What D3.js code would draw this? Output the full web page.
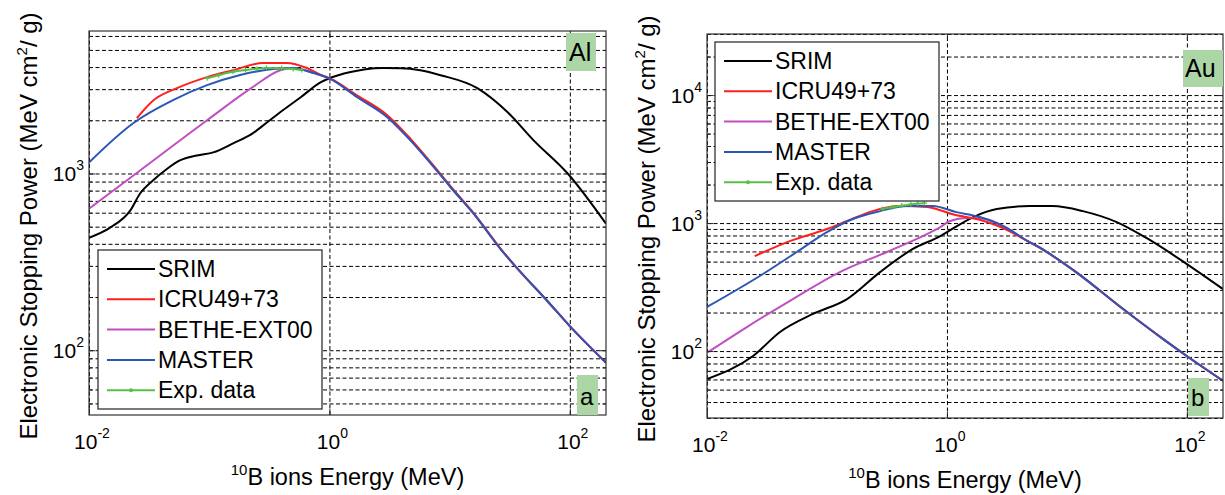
<!DOCTYPE html>
<html><head><meta charset="utf-8">
<script src="https://cdn.jsdelivr.net/npm/d3@7"></script>
<style>
body{margin:0;background:#fff}
svg{display:block}
text{font-family:Arial,"Liberation Sans",sans-serif;fill:#000}
</style>
</head><body>
<svg id="chart" width="1225" height="495"></svg>
<script>
// ---------------- DATA ----------------
const seriesNames = ["SRIM", "ICRU49+73", "BETHE-EXT00", "MASTER", "Exp. data"];
const xTickValues = [0.01, 1, 100];
const xTickExponents = ["-2", "0", "2"];
const yTickValuesAl = [100, 1000];
const yTickExponentsAl = ["2", "3"];
const yTickValuesAu = [100, 1000, 10000];
const yTickExponentsAu = ["2", "3", "4"];
const panelTags = ["Al", "Au"];
const panelLetters = ["a", "b"];

// Panel a: Al target
const alSrimE   = [0.01, 0.015, 0.022, 0.0266, 0.034, 0.045, 0.057, 0.079, 0.108, 0.158, 0.23, 0.304, 0.41, 0.577, 0.85, 1.0, 1.5, 2.0, 2.8, 3.9, 5.7, 8.4, 17, 30.4, 50, 96, 200];
const alSrimS   = [433, 494, 616, 770, 912, 1067, 1185, 1265, 1316, 1480, 1688, 1950, 2280, 2700, 3290, 3460, 3750, 3890, 3950, 3940, 3840, 3600, 3040, 2220, 1540, 1000, 520];
const alIcruE   = [0.025, 0.034, 0.054, 0.096, 0.158, 0.28, 0.44, 0.65, 0.85, 1.0, 1.71, 3.0, 4.73, 7.41, 10.2, 15.9, 26.6, 35, 65, 100, 200];
const alIcruS   = [2054, 2580, 3040, 3510, 3840, 4220, 4220, 3950, 3610, 3460, 2760, 2150, 1570, 1100, 845, 595, 375, 300, 190, 137, 85];
const alBetheE  = [0.01, 0.0266, 0.096, 0.23, 0.39, 0.5, 0.74, 1.0, 1.71, 3.02, 4.73, 7.41, 10.2, 15.9, 26.6, 35, 65, 100, 200];
const alBetheS  = [632, 1040, 2000, 3080, 3840, 3950, 3700, 3450, 2700, 2090, 1540, 1086, 836, 590, 373, 300, 190, 137, 85];
const alMasterE = [0.01, 0.0233, 0.05, 0.096, 0.181, 0.34, 0.5, 0.74, 1.0, 1.71, 3.02, 4.73, 7.41, 10.2, 15.9, 26.6, 35, 65, 100, 200];
const alMasterS = [1155, 1925, 2600, 3160, 3610, 3900, 3950, 3700, 3450, 2700, 2090, 1540, 1086, 836, 590, 373, 300, 190, 137, 85];
const alExpE    = [0.096, 0.12, 0.158, 0.2, 0.25, 0.3, 0.4, 0.5, 0.59];
const alExpS    = [3460, 3600, 3760, 3850, 3920, 3950, 3940, 3900, 3850];

// Panel b: Au target
const auSrimE   = [0.01, 0.0242, 0.0406, 0.0764, 0.147, 0.277, 0.52, 0.88, 1.1, 1.66, 2.6, 4.9, 7.6, 13.6, 26, 46, 100, 200];
const auSrimS   = [60.4, 91.5, 141, 195, 255, 414, 628, 792, 898, 1114, 1286, 1358, 1358, 1240, 1018, 765, 478, 305];
const auIcruE   = [0.025, 0.049, 0.1, 0.147, 0.24, 0.405, 0.68, 0.88, 1.1, 1.88, 3.57, 4.32, 5.96, 12.0, 29.4, 63.5, 99, 200];
const auIcruS   = [552, 723, 898, 1037, 1240, 1358, 1333, 1260, 1176, 1060, 835, 755, 640, 412, 213, 124, 92, 58.6];
const auBetheE  = [0.01, 0.0215, 0.052, 0.128, 0.316, 0.68, 0.88, 1.06, 1.46, 1.88, 3.57, 4.32, 5.96, 12.0, 29.4, 63.5, 99, 200];
const auBetheS  = [97, 154, 255, 414, 594, 820, 930, 1037, 1094, 1090, 855, 758, 642, 412, 213, 124, 92, 58.6];
const auMasterE = [0.01, 0.0293, 0.056, 0.1, 0.164, 0.277, 0.46, 0.76, 1.2, 1.88, 3.57, 4.32, 5.96, 12.0, 29.4, 63.5, 99, 200];
const auMasterS = [221, 400, 594, 850, 1075, 1240, 1358, 1358, 1218, 1114, 855, 758, 642, 412, 213, 124, 92, 58.6];
const auExpE    = [0.29, 0.35, 0.42, 0.5, 0.57, 0.65];
const auExpS    = [1290, 1330, 1370, 1400, 1420, 1430];

// ---------------- STYLE / LAYOUT ----------------
const colors = ["#000000", "#ff1f1f", "#c04fc0", "#2b57b5", "#55c046"];
const tagFill = "#acd6a5";

const panels = [
  { left: 89, top: 31, right: 606, bottom: 415, xDomain: [0.01, 200], yDomain: [43, 6400],
    yTicks: yTickValuesAl, yExps: yTickExponentsAl,
    series: [[alSrimE, alSrimS], [alIcruE, alIcruS], [alBetheE, alBetheS], [alMasterE, alMasterS], [alExpE, alExpS]],
    legend: { x: 98, y: 250 }, tag: panelTags[0], tagBox: [566, 33, 30, 38], tagText: [569, 61],
    letter: panelLetters[0], letterBox: [577, 375, 21, 40], letterText: [580, 405] },
  { left: 707, top: 34, right: 1223, bottom: 418, xDomain: [0.01, 200], yDomain: [30, 30000],
    yTicks: yTickValuesAu, yExps: yTickExponentsAu,
    series: [[auSrimE, auSrimS], [auIcruE, auIcruS], [auBetheE, auBetheS], [auMasterE, auMasterS], [auExpE, auExpS]],
    legend: { x: 715, y: 42 }, tag: panelTags[1], tagBox: [1183, 50, 40, 37], tagText: [1185, 77],
    letter: panelLetters[1], letterBox: [1188, 378, 21, 38], letterText: [1191, 406] }
];

const svg = d3.select("#chart");

function minorValues(domain) {
  const out = [];
  for (let e = Math.floor(Math.log10(domain[0])); e <= Math.ceil(Math.log10(domain[1])); e++) {
    for (let m = 1; m <= 9; m++) {
      const v = m * Math.pow(10, e);
      if (v >= domain[0] * 0.999 && v <= domain[1] * 1.001) out.push(v);
    }
  }
  return out;
}

function powerLabel(g, x, y, exp, anchor) {
  const t = g.append("text").attr("x", x).attr("y", y).attr("font-size", 21).attr("text-anchor", anchor);
  t.append("tspan").text("10");
  t.append("tspan").attr("font-size", 14).attr("dy", -11).text(exp);
  return t;
}

panels.forEach((p, pi) => {
  const w = p.right - p.left, h = p.bottom - p.top;
  const x = d3.scaleLog().domain(p.xDomain).range([p.left, p.right]);
  const y = d3.scaleLog().domain(p.yDomain).range([p.bottom, p.top]);
  const g = svg.append("g");

  const clipId = "clip" + pi;
  svg.append("clipPath").attr("id", clipId).append("rect")
    .attr("x", p.left).attr("y", p.top).attr("width", w).attr("height", h);

  // horizontal grid (all minor values)
  const yMinor = minorValues(p.yDomain);
  const gy = g.append("g").attr("transform", `translate(${p.left},0)`)
    .call(d3.axisLeft(y).tickValues(yMinor).tickSize(-w).tickFormat(""));
  gy.select(".domain").remove();
  gy.selectAll("line").attr("stroke", "#000").attr("stroke-width", 1).attr("stroke-dasharray", "4,2.5");

  // vertical grid (decades)
  const gx = g.append("g").attr("transform", `translate(0,${p.bottom})`)
    .call(d3.axisBottom(x).tickValues(xTickValues).tickSize(-h).tickFormat(""));
  gx.select(".domain").remove();
  gx.selectAll("line").attr("stroke", "#000").attr("stroke-width", 1).attr("stroke-dasharray", "4,2.5");

  // curves
  const line = d3.line().x(d => x(d[0])).y(d => y(d[1])).curve(d3.curveMonotoneX);
  const cg = g.append("g").attr("clip-path", `url(#${clipId})`);
  const order = [0, 2, 1, 3, 4];
  order.forEach(si => {
    const [E, S] = p.series[si];
    const pts = E.map((e, i) => [e, S[i]]);
    cg.append("path").attr("d", line(pts)).attr("fill", "none")
      .attr("stroke", colors[si]).attr("stroke-width", 2).attr("stroke-linejoin", "round");
    if (si === 4) {
      cg.selectAll(null).data(pts).enter().append("path")
        .attr("d", d => `M${x(d[0])},${y(d[1]) - 2.5}v5M${x(d[0]) - 2.5},${y(d[1])}h5`)
        .attr("stroke", colors[si]).attr("stroke-width", 1.2);
    }
  });

  // ticks (inside) on all sides
  const tickStyle = sel => { sel.select(".domain").remove(); sel.selectAll("line").attr("stroke", "#222"); };
  const yMinorOnly = yMinor.filter(v => !p.yTicks.includes(v));
  g.append("g").attr("transform", `translate(${p.left},0)`)
    .call(d3.axisRight(y).tickValues(p.yTicks).tickSize(6).tickFormat("")).call(tickStyle);
  g.append("g").attr("transform", `translate(${p.left},0)`)
    .call(d3.axisRight(y).tickValues(yMinorOnly).tickSize(3).tickFormat("")).call(tickStyle);
  g.append("g").attr("transform", `translate(${p.right},0)`)
    .call(d3.axisLeft(y).tickValues(p.yTicks).tickSize(6).tickFormat("")).call(tickStyle);
  g.append("g").attr("transform", `translate(${p.right},0)`)
    .call(d3.axisLeft(y).tickValues(yMinorOnly).tickSize(3).tickFormat("")).call(tickStyle);
  g.append("g").attr("transform", `translate(0,${p.bottom})`)
    .call(d3.axisTop(x).tickValues(xTickValues).tickSize(6).tickFormat("")).call(tickStyle);
  g.append("g").attr("transform", `translate(0,${p.top})`)
    .call(d3.axisBottom(x).tickValues(xTickValues).tickSize(6).tickFormat("")).call(tickStyle);

  // frame
  g.append("rect").attr("x", p.left).attr("y", p.top).attr("width", w).attr("height", h)
    .attr("fill", "none").attr("stroke", "#333").attr("stroke-width", 1.2);

  // tick labels
  xTickValues.forEach((v, i) => {
    powerLabel(g, x(v) + 3, p.bottom + 34, xTickExponents[i], "middle");
  });
  p.yTicks.forEach((v, i) => {
    powerLabel(g, p.left - 5, y(v) + 8, p.yExps[i], "end");
  });

  // axis titles
  const xt = g.append("text").attr("x", (p.left + p.right) / 2).attr("y", p.bottom + 70)
    .attr("text-anchor", "middle").attr("font-size", 23.5);
  xt.append("tspan").attr("font-size", 15).attr("dy", -10).text("10");
  xt.append("tspan").attr("dy", 10).text("B ions Energy (MeV)");

  const yt = g.append("text").attr("transform", `translate(${p.left - 52},${(p.top + p.bottom) / 2 + 3}) rotate(-90)`)
    .attr("text-anchor", "middle").attr("font-size", 24);
  yt.append("tspan").text("Electronic Stopping Power (MeV cm");
  yt.append("tspan").attr("font-size", 15).attr("dy", -10).text("2");
  yt.append("tspan").attr("dy", 10).text("/ g)");

  // legend
  const lg = g.append("g").attr("transform", `translate(${p.legend.x},${p.legend.y})`);
  lg.append("rect").attr("width", 224).attr("height", 159).attr("fill", "#fff")
    .attr("stroke", "#222").attr("stroke-width", 1.2);
  seriesNames.forEach((name, i) => {
    const ly = 19 + i * 30.3;
    lg.append("line").attr("x1", 9).attr("x2", 57).attr("y1", ly).attr("y2", ly)
      .attr("stroke", colors[i]).attr("stroke-width", 2);
    if (i === 4) {
      lg.append("circle").attr("cx", 33).attr("cy", ly).attr("r", 2).attr("fill", colors[i]);
    }
    lg.append("text").attr("x", 60).attr("y", ly + 8).attr("font-size", 23).text(name);
  });

  // tags
  g.append("rect").attr("x", p.tagBox[0]).attr("y", p.tagBox[1]).attr("width", p.tagBox[2]).attr("height", p.tagBox[3]).attr("fill", tagFill);
  g.append("text").attr("x", p.tagText[0]).attr("y", p.tagText[1]).attr("font-size", 25).text(p.tag);
  g.append("rect").attr("x", p.letterBox[0]).attr("y", p.letterBox[1]).attr("width", p.letterBox[2]).attr("height", p.letterBox[3]).attr("fill", tagFill);
  g.append("text").attr("x", p.letterText[0]).attr("y", p.letterText[1]).attr("font-size", 24).text(p.letter);
});
</script>
</body></html>
